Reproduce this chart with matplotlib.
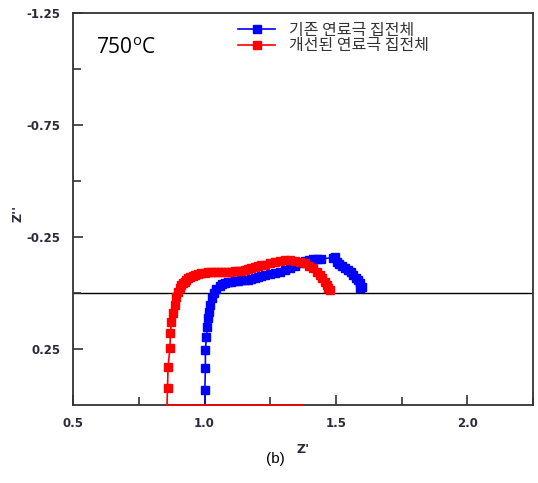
"""Nyquist plot at 750 C: conventional vs improved anode current collector."""
import matplotlib
matplotlib.use("Agg")
import matplotlib.pyplot as plt
from matplotlib.ticker import MultipleLocator, FixedLocator

plt.rcParams["font.family"] = ["Noto Sans CJK KR", "DejaVu Sans"]

# conventional current collector (blue)
z_re_old = [1.001, 1.003, 1.003, 1.007, 1.011, 1.013, 1.017, 1.022, 1.029, 1.036,
            1.045, 1.058, 1.067, 1.077, 1.090, 1.102, 1.115, 1.127, 1.140, 1.153,
            1.165, 1.178, 1.190, 1.203, 1.216, 1.229, 1.248, 1.267, 1.286, 1.305,
            1.324, 1.343, 1.362, 1.381, 1.397, 1.413, 1.428, 1.444, 1.489, 1.495,
            1.502, 1.512, 1.521, 1.534, 1.546, 1.556, 1.565, 1.575, 1.584, 1.592,
            1.597, 1.590]
z_im_old = [0.433, 0.336, 0.254, 0.195, 0.150, 0.113, 0.083, 0.054, 0.024, 0.001,
            -0.017, -0.031, -0.038, -0.043, -0.047, -0.050, -0.053, -0.055, -0.057, -0.058,
            -0.060, -0.062, -0.066, -0.070, -0.075, -0.080, -0.084, -0.088, -0.095, -0.103,
            -0.112, -0.122, -0.132, -0.143, -0.148, -0.152, -0.152, -0.152, -0.158, -0.160,
            -0.140, -0.131, -0.122, -0.112, -0.103, -0.092, -0.080, -0.069, -0.058, -0.043,
            -0.028, -0.021]

# improved current collector (red)
z_re_new = [0.859, 0.861, 0.868, 0.870, 0.874, 0.880, 0.887, 0.893, 0.899, 0.905,
            0.912, 0.918, 0.925, 0.931, 0.937, 0.946, 0.956, 0.965, 0.975, 0.988,
            1.001, 1.013, 1.026, 1.038, 1.051, 1.064, 1.077, 1.090, 1.102, 1.115,
            1.127, 1.140, 1.153, 1.165, 1.178, 1.190, 1.203, 1.216, 1.229, 1.248,
            1.267, 1.286, 1.305, 1.324, 1.343, 1.362, 1.381, 1.397, 1.413, 1.426,
            1.438, 1.448, 1.457, 1.464, 1.470, 1.476]
z_im_new = [0.423, 0.329, 0.247, 0.180, 0.128, 0.091, 0.054, 0.017, -0.006, -0.021,
            -0.036, -0.043, -0.050, -0.058, -0.066, -0.071, -0.076, -0.080, -0.085, -0.088,
            -0.091, -0.093, -0.095, -0.095, -0.095, -0.095, -0.095, -0.095, -0.095, -0.097,
            -0.098, -0.100, -0.103, -0.106, -0.110, -0.115, -0.121, -0.123, -0.125, -0.133,
            -0.140, -0.144, -0.147, -0.146, -0.144, -0.139, -0.133, -0.122, -0.110, -0.095,
            -0.080, -0.065, -0.050, -0.035, -0.021, -0.013]

# leads running off the bottom of the plot
tail_old_re = [1.001, 1.001]
tail_old_im = [0.433, 0.50]
tail_new_re = [0.859, 0.857, 1.375]
tail_new_im = [0.423, 0.50, 0.50]

labels = ["기존 연료극 집전체", "개선된 연료극 집전체"]
y_labelled = [-1.25, -0.75, -0.25, 0.25]
y_between = [-1.0, -0.5, 0.0]

fig = plt.figure(figsize=(5.38, 4.83), dpi=100)
ax = fig.add_axes([0.136, 0.1615, 0.855, 0.8115])

BLUE, RED = "#0000ff", "#ff0000"
ax.axhline(0, color="black", lw=1.0, zorder=1)
ax.plot(tail_old_re, tail_old_im, color=BLUE, lw=1.2, clip_on=False, zorder=4)
ax.plot(tail_new_re, tail_new_im, color=RED, lw=1.2, clip_on=False, zorder=4)
ax.plot(z_re_old, z_im_old, "-s", color=BLUE, ms=6, lw=1.2, label=labels[0], zorder=3)
ax.plot(z_re_new, z_im_new, "-s", color=RED, ms=6, lw=1.2, label=labels[1], zorder=3)

ax.set_xlim(0.5, 2.25)
ax.set_ylim(0.5, -1.25)
ax.xaxis.set_major_locator(MultipleLocator(0.5))
ax.xaxis.set_minor_locator(MultipleLocator(0.25))
ax.yaxis.set_major_locator(FixedLocator(y_labelled))
ax.yaxis.set_minor_locator(FixedLocator(y_between))
ax.xaxis.set_major_formatter(lambda v, p: f"{v:.1f}")
ax.yaxis.set_major_formatter(lambda v, p: f"{v:.2f}")
ax.tick_params(which="both", direction="in", color="#333333", width=1.2,
               labelsize=8.5, labelcolor="#2a2a3a")
ax.tick_params(axis="x", which="both", pad=9)
ax.tick_params(axis="y", which="both", pad=9)
ax.tick_params(which="major", length=7)
ax.tick_params(which="minor", length=6)
for lab in ax.get_xticklabels() + ax.get_yticklabels():
    lab.set_fontweight("bold")
    lab.set_family("DejaVu Sans")
for sp in ax.spines.values():
    sp.set_color("#333333")
    sp.set_linewidth(1.3)

ax.set_xlabel("Z'", fontsize=9, fontweight="bold", color="#2a2a3a", labelpad=9,
              family="DejaVu Sans")
ax.set_ylabel("Z''", fontsize=9, fontweight="bold", color="#2a2a3a",
              family="DejaVu Sans")
ax.yaxis.set_label_coords(-0.105, 0.49)
ax.text(0.05, 0.895, "750$^\\mathregular{o}$C", transform=ax.transAxes,
        fontsize=15, family=["Open Sans", "DejaVu Sans"])
ax.legend(loc="upper left", bbox_to_anchor=(0.34, 1.0), frameon=False, fontsize=11.5,
          handlelength=2.3, handletextpad=0.9, labelspacing=-0.1, borderaxespad=0.15,
          labelcolor="#333333")

fig.text(0.511, 0.042, "(b)", ha="center", fontsize=11, family=["Liberation Sans"])

fig.savefig("out.png", dpi=100)
